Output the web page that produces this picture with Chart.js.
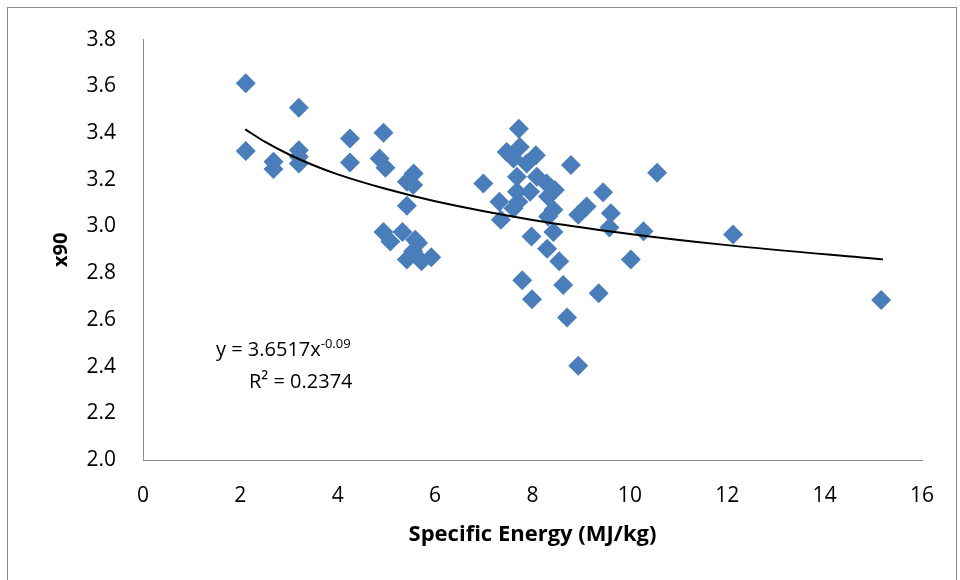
<!DOCTYPE html>
<html>
<head>
<meta charset="utf-8">
<script src="https://cdn.jsdelivr.net/npm/chart.js@4/dist/chart.umd.min.js"></script>
<style>
  html, body { margin: 0; padding: 0; background: #fff; }
  #wrap { position: relative; width: 960px; height: 580px; overflow: hidden; }
  #frame { position: absolute; left: 7px; top: 7px; width: 950px; height: 620px; border: 1px solid #8c8c8c; box-sizing: border-box; }
  canvas { position: absolute; left: 0; top: 0; }
  .eq { position: absolute; font-family: "Open Sans", sans-serif; font-size: 20px; color: #000; white-space: nowrap; }
  .eq sup { font-size: 13px; vertical-align: 8px; line-height: 0; }
</style>
</head>
<body>
<div id="wrap">
  <div id="frame"></div>
  <canvas id="scatterChart" width="960" height="580"></canvas>
  <div class="eq" style="left:216px; top:335px;">y = 3.6517x<sup>-0.09</sup></div>
  <div class="eq" style="left:249px; top:367px;">R² = 0.2374</div>
</div>
<script>
// specific energy (MJ/kg)
const energy = [
    2.11, 3.20, 2.11, 2.68, 2.68, 3.20, 3.20, 3.20, 4.25, 4.25,
    4.94, 4.86, 4.98, 5.56, 5.42, 5.55, 5.42, 4.94, 5.08, 5.33,
    5.59, 5.65, 5.42, 5.55, 5.72, 5.92,
    7.72, 7.47, 7.74, 7.61, 8.07, 7.88, 8.79, 6.99, 7.68, 8.09,
    8.29, 8.46, 7.68, 7.95, 8.32, 7.71, 7.32, 7.61, 8.43, 8.32,
    7.35, 9.11, 8.94, 9.45, 9.61, 9.58, 10.56, 10.28, 7.98, 8.43,
    8.30, 8.55, 10.02, 7.79, 8.63, 7.99, 9.36, 8.71, 8.94,
    12.12, 15.16
];
// x90
const x90 = [
    3.613, 3.508, 3.323, 3.277, 3.246, 3.326, 3.298, 3.269, 3.377, 3.274,
    3.401, 3.291, 3.251, 3.227, 3.191, 3.177, 3.089, 2.976, 2.936, 2.976,
    2.943, 2.929, 2.858, 2.894, 2.851, 2.868,
    3.418, 3.319, 3.340, 3.291, 3.305, 3.269, 3.263, 3.184, 3.213, 3.213,
    3.184, 3.156, 3.149, 3.149, 3.128, 3.106, 3.106, 3.078, 3.071, 3.043,
    3.029, 3.085, 3.050, 3.146, 3.057, 2.996, 3.230, 2.979, 2.957, 2.976,
    2.905, 2.851, 2.858, 2.770, 2.749, 2.688, 2.714, 2.610, 2.404,
    2.966, 2.685
];

// power trendline
const trendX = [2.1, 2.5, 3, 3.5, 4, 5, 6, 8, 10, 12, 15.2];
const trendY = [3.416, 3.363, 3.308, 3.262, 3.223, 3.160, 3.108, 3.028, 2.968, 2.920, 2.859];

const xTicks = [0, 2, 4, 6, 8, 10, 12, 14, 16];
const yTicks = [2.0, 2.2, 2.4, 2.6, 2.8, 3.0, 3.2, 3.4, 3.6, 3.8];

const tickFont = { family: "Open Sans", size: 21 };

const ctx = document.getElementById("scatterChart");

new Chart(ctx, {
    type: "scatter",
    data: {
        datasets: [
            {
                label: "x90",
                data: energy.map((e, i) => ({ x: e, y: x90[i] })),
                pointStyle: "rectRot",
                pointRadius: 10,
                pointHoverRadius: 10,
                backgroundColor: "#4a7ebb",
                borderColor: "#4a7ebb",
                borderWidth: 0,
                order: 2,
            },
            {
                label: "Power trend",
                type: "line",
                data: trendX.map((x, i) => ({ x: x, y: trendY[i] })),
                borderColor: "#000",
                borderWidth: 2,
                pointRadius: 0,
                cubicInterpolationMode: "monotone",
                fill: false,
                order: 1,
            },
        ],
    },
    options: {
        responsive: false,
        animation: false,
        layout: { padding: { left: 0, top: 37, right: 38, bottom: 0 } },
        plugins: { legend: { display: false }, tooltip: { enabled: false } },
        scales: {
            x: {
                type: "linear",
                min: 0,
                max: 16,
                afterBuildTicks: (s) => { s.ticks = xTicks.map((v) => ({ value: v })); },
                afterFit: (s) => { s.height = 120; },
                grid: { display: false, drawTicks: false },
                border: { display: true, color: "#8c8c8c", width: 1 },
                ticks: { color: "#000", font: tickFont, padding: 23, maxRotation: 0 },
                title: {
                    display: true,
                    text: "Specific Energy (MJ/kg)",
                    color: "#000",
                    font: { family: "Open Sans", size: 22, weight: "bold" },
                    padding: { top: 0, bottom: 32 },
                },
            },
            y: {
                type: "linear",
                min: 2.0,
                max: 3.8,
                afterBuildTicks: (s) => { s.ticks = yTicks.map((v) => ({ value: v })); },
                afterFit: (s) => { s.width = 143; },
                grid: { display: false, drawTicks: false },
                border: { display: true, color: "#8c8c8c", width: 1 },
                ticks: {
                    color: "#000",
                    font: tickFont,
                    padding: 27,
                    callback: (v) => v.toFixed(1),
                },
                title: {
                    display: true,
                    text: "x90",
                    color: "#000",
                    font: { family: "Open Sans", size: 20, weight: "bold" },
                    padding: { top: 49, bottom: 0 },
                },
            },
        },
    },
});
</script>
</body>
</html>
